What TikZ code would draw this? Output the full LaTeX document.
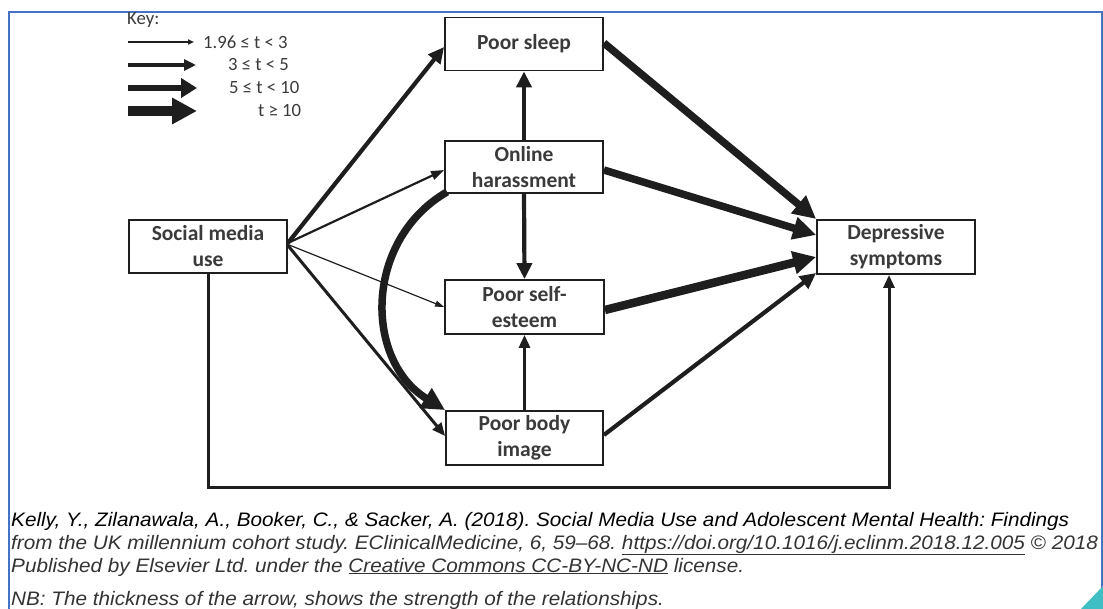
\documentclass[tikz,border=0pt]{standalone}
\usepackage{fontspec}
\setmainfont{Carlito}
\newfontfamily\capfont[Ligatures=TeX]{Liberation Sans}
\usetikzlibrary{arrows.meta}
\frenchspacing
\definecolor{ink}{HTML}{1E1E1E}
\definecolor{boxtext}{HTML}{3A3A3A}
\definecolor{captext}{HTML}{333333}
\definecolor{frameblue}{HTML}{4472C4}
\definecolor{tealc}{HTML}{3FBFC4}
\newcommand\capsize{\capfont\itshape\fontsize{19.5}{23}\selectfont}
\newsavebox\capone
\sbox\capone{\capsize Kelly, Y., Zilanawala, A., Booker, C., \& Sacker, A. (2018). Social Media Use and Adolescent Mental Health: Findings}
\begin{document}
\begin{tikzpicture}[x=1pt,y=-1pt,
  box/.style={draw=ink, line width=1.8pt, fill=white, minimum width=158pt, minimum height=53pt,
    align=center, inner sep=0pt, text=boxtext, font=\fontsize{21.5}{26}\selectfont\bfseries},
  keytext/.style={anchor=west, inner sep=0pt, text=boxtext, font=\fontsize{18.7}{20}\selectfont},
  captxt/.style={anchor=base west, inner sep=0pt, text=captext},
  ar/.style n args={3}{draw=ink, line width=#1, -{Triangle[length=#2, width=#3]}},
  ka/.style={ar={1.5pt}{6pt}{5pt}},
  kb/.style={ar={4pt}{12pt}{11pt}},
  kc/.style={ar={6.5pt}{16pt}{19pt}},
  kd/.style={ar={10pt}{25pt}{25pt}},
  thin/.style={ar={1.2pt}{9pt}{6pt}},
  light/.style={ar={2.2pt}{13pt}{9pt}},
  medium/.style={ar={3pt}{13pt}{11pt}},
  strong/.style={ar={4.2pt}{16pt}{15pt}},
  heavy/.style={ar={7.5pt}{23pt}{22pt}},
]
\useasboundingbox (0,0) rectangle (1103,609);
\clip (0,0) rectangle (1103,609);

% frame
\draw[frameblue, line width=2pt] (9,640) -- (9,12) -- (1101.5,12) -- (1101.5,592);
\fill[tealc] (1081,609) -- (1103,586) -- (1103,609) -- cycle;

% key
\node[keytext, anchor=north west] (keyt) at (127,12) {Key:};
\coordinate (k1a) at (128,42);  \coordinate (k1b) at (194,42);
\coordinate (k2a) at (128,65);  \coordinate (k2b) at (196,65);
\coordinate (k3a) at (128,88);  \coordinate (k3b) at (197,88);
\coordinate (k4a) at (128,111); \coordinate (k4b) at (197,111);
\draw[ka] (k1a) -- (k1b);
\draw[kb] (k2a) -- (k2b);
\draw[kc] (k3a) -- (k3b);
\draw[kd] (k4a) -- (k4b);
\node[keytext] (kl1) at (203,42) {1.96 ≤ t < 3};
\node[keytext] (kl2) at (228,65) {3 ≤ t < 5};
\node[keytext] (kl3) at (229,88) {5 ≤ t < 10};
\node[keytext] (kl4) at (258,111) {t ≥ 10};

% boxes
\node[box] (sleep) at (524,44) {Poor sleep};
\node[box, minimum height=52pt] (oh) at (524,167) {Online\\harassment};
\node[box, minimum width=159pt, minimum height=54pt] (se) at (524.5,307) {Poor self-\\esteem};
\node[box, minimum width=157pt, minimum height=54pt] (body) at (524.5,438) {Poor body\\image};
\node[box] (smu) at (208,246.5) {Social media\\use};
\node[box, minimum height=54pt] (dep) at (896,247) {Depressive\\symptoms};

% social media use edges
\draw[strong] ([yshift=3.5pt]smu.east) -- ([yshift=-3pt]sleep.west);
\draw[light]  ([yshift=3.5pt]smu.east) -- ([yshift=-3pt]oh.west);
\draw[thin]   ([yshift=2pt]smu.east) -- (se.west);
\draw[medium] ([yshift=1pt]smu.east) -- ([yshift=2pt]body.west);
\coordinate (low) at (0,487);
\draw[medium] (smu.south) -- (smu.south |- low) -| ([xshift=-7pt]dep.south);

% vertical edges
\draw[strong] (oh.north) -- (sleep.south);
\draw[strong] (oh.south) -- (se.north);
\draw[medium] (body.north) -- (se.south);

% curved edge
\draw[heavy] ([xshift=3pt,yshift=2pt]oh.south west) .. controls (364,240) and (364,360) .. (body.north west);

% into depressive symptoms
\draw[heavy] ([yshift=1pt]sleep.east) -- ([yshift=28pt]dep.west);
\draw[heavy] ([yshift=-3pt]oh.east) -- ([yshift=12pt]dep.west);
\draw[heavy, line width=8.5pt] ([yshift=-3pt]se.east) -- ([yshift=-10pt]dep.west);
\draw[strong] ([yshift=3pt]body.east) -- ([yshift=-26pt]dep.west);

% caption
\pgfmathsetmacro\cs{1058/\the\wd\capone}
\node[captxt] (c1) at (11,526) {\scalebox{\cs}[1]{\usebox\capone}};
\node[captxt] (c2) at (11,549) {\scalebox{\cs}[1]{\capsize from the UK millennium cohort study. EClinicalMedicine, 6, 59–68. \underline{https://doi.org/10.1016/j.eclinm.2018.12.005} \textup{©} 2018}};
\node[captxt] (c3) at (11,572) {\scalebox{\cs}[1]{\capsize Published by Elsevier Ltd. under the \underline{Creative Commons CC-BY-NC-ND} license.}};
\node[captxt] (c4) at (11,605) {\scalebox{\cs}[1]{\capsize NB: The thickness of the arrow, shows the strength of the relationships.}};
\end{tikzpicture}
\end{document}
